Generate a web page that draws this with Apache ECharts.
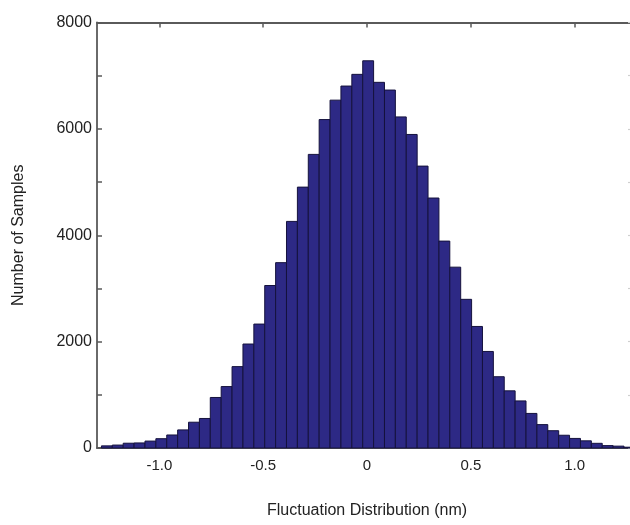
<!DOCTYPE html>
<html>
<head>
<meta charset="utf-8">
<script src="https://cdn.jsdelivr.net/npm/echarts@6/dist/echarts.min.js"></script>
<style>html,body{margin:0;padding:0;background:#fff;overflow:hidden;}#chart{width:637px;height:525px;}</style>
</head>
<body>
<div id="chart"></div>
<script>
// Histogram bin centers (nm)
var binCenters = [-1.2525,-1.2001,-1.1477,-1.0952,-1.0428,-0.9904,-0.9380,-0.8856,-0.8331,-0.7807,
  -0.7283,-0.6759,-0.6235,-0.5710,-0.5186,-0.4662,-0.4138,-0.3614,-0.3089,-0.2565,
  -0.2041,-0.1517,-0.0993,-0.0468,0.0056,0.0580,0.1104,0.1628,0.2153,0.2677,
  0.3201,0.3725,0.4249,0.4774,0.5298,0.5822,0.6346,0.6870,0.7395,0.7919,
  0.8443,0.8967,0.9491,1.0016,1.0540,1.1064,1.1588,1.2112,1.2636];
// Number of samples in each bin
var counts = [40,55,90,95,130,175,245,340,485,555,
  950,1155,1530,1955,2330,3055,3485,4260,4905,5520,
  6175,6540,6805,7025,7280,6875,6730,6225,5895,5300,
  4700,3890,3400,2795,2285,1815,1340,1075,885,650,
  440,325,240,180,135,88,45,35,15];
var binWidth = 0.0524;
var xTicks = [-1.0,-0.5,0,0.5,1.0];

var data = binCenters.map(function(c,i){return [c, counts[i]];});
var font = '"Liberation Sans", Arial, Helvetica, sans-serif';
var axisColor = '#5a5a5a';

var chart = echarts.init(document.getElementById('chart'));
chart.setOption({
  animation: false,
  backgroundColor: '#fff',
  grid: {left: 97, top: 22.5, bottom: 77, right: 0, containLabel: false},
  xAxis: [{
    type: 'value', min: -1.3, max: 1.3, position: 'bottom',
    name: 'Fluctuation Distribution (nm)', nameLocation: 'middle', nameGap: 55,
    nameTextStyle: {fontFamily: font, fontSize: 16, color: '#222'},
    axisLine: {show: true, onZero: false, lineStyle: {color: axisColor, width: 1.8}},
    axisTick: {show: true, inside: true, length: 5, customValues: xTicks, lineStyle: {color: axisColor, width: 1.5}},
    axisLabel: {show: true, customValues: xTicks, margin: 10, fontFamily: font, fontSize: 15, color: '#222',
      formatter: function(v){ return v === 0 ? '0' : v.toFixed(1); }},
    splitLine: {show: false}
  },{
    type: 'value', min: -1.3, max: 1.3, position: 'top',
    axisLine: {show: true, onZero: false, lineStyle: {color: axisColor, width: 1.8}},
    axisTick: {show: true, inside: true, length: 5, customValues: xTicks, lineStyle: {color: axisColor, width: 1.5}},
    axisLabel: {show: false},
    splitLine: {show: false}
  }],
  yAxis: [{
    type: 'value', min: 0, max: 8000, interval: 1000, position: 'left',
    name: 'Number of Samples', nameLocation: 'middle', nameGap: 70, nameRotate: 90,
    nameTextStyle: {fontFamily: font, fontSize: 16, color: '#222'},
    axisLine: {show: true, onZero: false, lineStyle: {color: axisColor, width: 1.8}},
    axisTick: {show: true, inside: true, length: 5, lineStyle: {color: axisColor, width: 1.5}},
    axisLabel: {show: true, margin: 5, fontFamily: font, fontSize: 16, color: '#222',
      formatter: function(v){ return (v % 2000 === 0) ? String(v) : ''; }},
    splitLine: {show: false}
  },{
    type: 'value', min: 0, max: 8000, interval: 1000, position: 'right',
    axisLine: {show: true, onZero: false, lineStyle: {color: axisColor, width: 1.8}},
    axisTick: {show: true, inside: true, length: 9, lineStyle: {color: '#cfcfcf', width: 1.2}},
    axisLabel: {show: false},
    splitLine: {show: false}
  }],
  series: [{
    type: 'custom',
    xAxisIndex: 0, yAxisIndex: 0,
    data: data,
    encode: {x: 0, y: 1},
    renderItem: function(params, api){
      var x = api.value(0), y = api.value(1);
      var p1 = api.coord([x - binWidth/2, y]);
      var p2 = api.coord([x + binWidth/2, 0]);
      return {
        type: 'rect',
        shape: {x: p1[0], y: p1[1], width: p2[0]-p1[0], height: p2[1]-p1[1]},
        style: {fill: '#2d2985', stroke: '#15123d', lineWidth: 1}
      };
    }
  }]
});
</script>
</body>
</html>
